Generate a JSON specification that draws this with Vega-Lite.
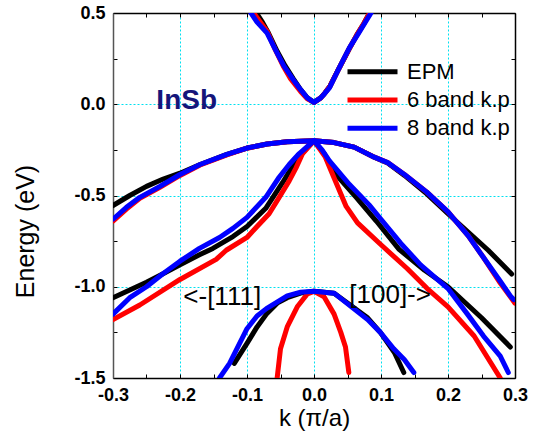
{
  "$schema": "https://vega.github.io/schema/vega-lite/v6.json",
  "width": 402,
  "height": 365,
  "autosize": {"type": "none"},
  "padding": {"left": 113, "top": 13, "right": 23, "bottom": 53},
  "background": "white",
  "config": {"view": {"stroke": null}, "font": "Liberation Sans"},
  "resolve": {"axis": {"x": "independent", "y": "independent"}},
  "layer": [
    {
      "data": {"values": [
        {"model":"EPM","band":"CB","k":-0.086,"E":0.5},{"model":"EPM","band":"CB","k":-0.077,"E":0.45},{"model":"EPM","band":"CB","k":-0.068,"E":0.39},{"model":"EPM","band":"CB","k":-0.055,"E":0.29},{"model":"EPM","band":"CB","k":-0.043,"E":0.21},{"model":"EPM","band":"CB","k":-0.031,"E":0.14},{"model":"EPM","band":"CB","k":-0.02,"E":0.08},{"model":"EPM","band":"CB","k":-0.01,"E":0.035},{"model":"EPM","band":"CB","k":0,"E":0.01},{"model":"EPM","band":"CB","k":0.01,"E":0.035},{"model":"EPM","band":"CB","k":0.016,"E":0.06},{"model":"EPM","band":"CB","k":0.024,"E":0.1},{"model":"EPM","band":"CB","k":0.035,"E":0.18},{"model":"EPM","band":"CB","k":0.052,"E":0.3},{"model":"EPM","band":"CB","k":0.064,"E":0.38},{"model":"EPM","band":"CB","k":0.074,"E":0.44},{"model":"EPM","band":"CB","k":0.083,"E":0.5},
        {"model":"EPM","band":"HH","k":-0.3,"E":-0.555},{"model":"EPM","band":"HH","k":-0.275,"E":-0.5},{"model":"EPM","band":"HH","k":-0.25,"E":-0.45},{"model":"EPM","band":"HH","k":-0.225,"E":-0.41},{"model":"EPM","band":"HH","k":-0.2,"E":-0.378},{"model":"EPM","band":"HH","k":-0.17,"E":-0.33},{"model":"EPM","band":"HH","k":-0.13,"E":-0.275},{"model":"EPM","band":"HH","k":-0.1,"E":-0.24},{"model":"EPM","band":"HH","k":-0.07,"E":-0.218},{"model":"EPM","band":"HH","k":-0.04,"E":-0.206},{"model":"EPM","band":"HH","k":0,"E":-0.2},{"model":"EPM","band":"HH","k":0.03,"E":-0.21},{"model":"EPM","band":"HH","k":0.06,"E":-0.235},{"model":"EPM","band":"HH","k":0.09,"E":-0.29},{"model":"EPM","band":"HH","k":0.11,"E":-0.322},{"model":"EPM","band":"HH","k":0.135,"E":-0.39},{"model":"EPM","band":"HH","k":0.168,"E":-0.49},{"model":"EPM","band":"HH","k":0.2,"E":-0.6},{"model":"EPM","band":"HH","k":0.23,"E":-0.7},{"model":"EPM","band":"HH","k":0.26,"E":-0.8},{"model":"EPM","band":"HH","k":0.295,"E":-0.93},
        {"model":"EPM","band":"LH","k":-0.3,"E":-1.06},{"model":"EPM","band":"LH","k":-0.25,"E":-0.975},{"model":"EPM","band":"LH","k":-0.226,"E":-0.93},{"model":"EPM","band":"LH","k":-0.2,"E":-0.88},{"model":"EPM","band":"LH","k":-0.171,"E":-0.825},{"model":"EPM","band":"LH","k":-0.151,"E":-0.79},{"model":"EPM","band":"LH","k":-0.121,"E":-0.725},{"model":"EPM","band":"LH","k":-0.1,"E":-0.67},{"model":"EPM","band":"LH","k":-0.072,"E":-0.57},{"model":"EPM","band":"LH","k":-0.047,"E":-0.43},{"model":"EPM","band":"LH","k":-0.027,"E":-0.31},{"model":"EPM","band":"LH","k":-0.012,"E":-0.245},{"model":"EPM","band":"LH","k":0,"E":-0.2},{"model":"EPM","band":"LH","k":0.015,"E":-0.27},{"model":"EPM","band":"LH","k":0.033,"E":-0.385},{"model":"EPM","band":"LH","k":0.063,"E":-0.51},{"model":"EPM","band":"LH","k":0.093,"E":-0.64},{"model":"EPM","band":"LH","k":0.127,"E":-0.795},{"model":"EPM","band":"LH","k":0.165,"E":-0.91},{"model":"EPM","band":"LH","k":0.2,"E":-1.0},{"model":"EPM","band":"LH","k":0.25,"E":-1.17},{"model":"EPM","band":"LH","k":0.293,"E":-1.33},
        {"model":"EPM","band":"SO","k":-0.119,"E":-1.42},{"model":"EPM","band":"SO","k":-0.1,"E":-1.31},{"model":"EPM","band":"SO","k":-0.085,"E":-1.22},{"model":"EPM","band":"SO","k":-0.071,"E":-1.15},{"model":"EPM","band":"SO","k":-0.055,"E":-1.09},{"model":"EPM","band":"SO","k":-0.04,"E":-1.06},{"model":"EPM","band":"SO","k":-0.02,"E":-1.035},{"model":"EPM","band":"SO","k":0,"E":-1.025},{"model":"EPM","band":"SO","k":0.03,"E":-1.035},{"model":"EPM","band":"SO","k":0.054,"E":-1.1},{"model":"EPM","band":"SO","k":0.08,"E":-1.17},{"model":"EPM","band":"SO","k":0.099,"E":-1.25},{"model":"EPM","band":"SO","k":0.12,"E":-1.36},{"model":"EPM","band":"SO","k":0.134,"E":-1.47},
        {"model":"6 band k.p","band":"CB","k":-0.09,"E":0.5},{"model":"6 band k.p","band":"CB","k":-0.08,"E":0.45},{"model":"6 band k.p","band":"CB","k":-0.07,"E":0.4},{"model":"6 band k.p","band":"CB","k":-0.058,"E":0.3},{"model":"6 band k.p","band":"CB","k":-0.046,"E":0.21},{"model":"6 band k.p","band":"CB","k":-0.035,"E":0.14},{"model":"6 band k.p","band":"CB","k":-0.02,"E":0.07},{"model":"6 band k.p","band":"CB","k":-0.01,"E":0.03},{"model":"6 band k.p","band":"CB","k":0,"E":0.01},{"model":"6 band k.p","band":"CB","k":0.01,"E":0.035},{"model":"6 band k.p","band":"CB","k":0.016,"E":0.06},{"model":"6 band k.p","band":"CB","k":0.024,"E":0.1},{"model":"6 band k.p","band":"CB","k":0.035,"E":0.18},{"model":"6 band k.p","band":"CB","k":0.052,"E":0.3},{"model":"6 band k.p","band":"CB","k":0.064,"E":0.38},{"model":"6 band k.p","band":"CB","k":0.074,"E":0.44},{"model":"6 band k.p","band":"CB","k":0.083,"E":0.5},
        {"model":"6 band k.p","band":"HH","k":-0.3,"E":-0.64},{"model":"6 band k.p","band":"HH","k":-0.28,"E":-0.575},{"model":"6 band k.p","band":"HH","k":-0.26,"E":-0.515},{"model":"6 band k.p","band":"HH","k":-0.23,"E":-0.455},{"model":"6 band k.p","band":"HH","k":-0.2,"E":-0.39},{"model":"6 band k.p","band":"HH","k":-0.17,"E":-0.333},{"model":"6 band k.p","band":"HH","k":-0.13,"E":-0.277},{"model":"6 band k.p","band":"HH","k":-0.1,"E":-0.241},{"model":"6 band k.p","band":"HH","k":-0.07,"E":-0.218},{"model":"6 band k.p","band":"HH","k":-0.04,"E":-0.206},{"model":"6 band k.p","band":"HH","k":0,"E":-0.2},{"model":"6 band k.p","band":"HH","k":0.03,"E":-0.21},{"model":"6 band k.p","band":"HH","k":0.06,"E":-0.235},{"model":"6 band k.p","band":"HH","k":0.09,"E":-0.29},{"model":"6 band k.p","band":"HH","k":0.11,"E":-0.32},{"model":"6 band k.p","band":"HH","k":0.135,"E":-0.385},{"model":"6 band k.p","band":"HH","k":0.168,"E":-0.48},{"model":"6 band k.p","band":"HH","k":0.2,"E":-0.59},{"model":"6 band k.p","band":"HH","k":0.23,"E":-0.72},{"model":"6 band k.p","band":"HH","k":0.253,"E":-0.84},{"model":"6 band k.p","band":"HH","k":0.278,"E":-0.98},{"model":"6 band k.p","band":"HH","k":0.3,"E":-1.09},
        {"model":"6 band k.p","band":"LH","k":-0.3,"E":-1.18},{"model":"6 band k.p","band":"LH","k":-0.26,"E":-1.1},{"model":"6 band k.p","band":"LH","k":-0.2,"E":-0.96},{"model":"6 band k.p","band":"LH","k":-0.146,"E":-0.85},{"model":"6 band k.p","band":"LH","k":-0.131,"E":-0.8},{"model":"6 band k.p","band":"LH","k":-0.1,"E":-0.73},{"model":"6 band k.p","band":"LH","k":-0.085,"E":-0.67},{"model":"6 band k.p","band":"LH","k":-0.067,"E":-0.6},{"model":"6 band k.p","band":"LH","k":-0.052,"E":-0.51},{"model":"6 band k.p","band":"LH","k":-0.037,"E":-0.42},{"model":"6 band k.p","band":"LH","k":-0.027,"E":-0.35},{"model":"6 band k.p","band":"LH","k":-0.017,"E":-0.27},{"model":"6 band k.p","band":"LH","k":0,"E":-0.2},{"model":"6 band k.p","band":"LH","k":0.017,"E":-0.29},{"model":"6 band k.p","band":"LH","k":0.033,"E":-0.43},{"model":"6 band k.p","band":"LH","k":0.048,"E":-0.56},{"model":"6 band k.p","band":"LH","k":0.065,"E":-0.65},{"model":"6 band k.p","band":"LH","k":0.1,"E":-0.77},{"model":"6 band k.p","band":"LH","k":0.139,"E":-0.9},{"model":"6 band k.p","band":"LH","k":0.169,"E":-1.01},{"model":"6 band k.p","band":"LH","k":0.2,"E":-1.11},{"model":"6 band k.p","band":"LH","k":0.239,"E":-1.27},{"model":"6 band k.p","band":"LH","k":0.278,"E":-1.5},
        {"model":"6 band k.p","band":"SO","k":-0.055,"E":-1.5},{"model":"6 band k.p","band":"SO","k":-0.05,"E":-1.34},{"model":"6 band k.p","band":"SO","k":-0.04,"E":-1.22},{"model":"6 band k.p","band":"SO","k":-0.025,"E":-1.11},{"model":"6 band k.p","band":"SO","k":-0.01,"E":-1.04},{"model":"6 band k.p","band":"SO","k":0,"E":-1.025},{"model":"6 band k.p","band":"SO","k":0.015,"E":-1.055},{"model":"6 band k.p","band":"SO","k":0.03,"E":-1.15},{"model":"6 band k.p","band":"SO","k":0.04,"E":-1.25},{"model":"6 band k.p","band":"SO","k":0.047,"E":-1.33},{"model":"6 band k.p","band":"SO","k":0.052,"E":-1.47},
        {"model":"8 band k.p","band":"CB","k":-0.094,"E":0.5},{"model":"8 band k.p","band":"CB","k":-0.085,"E":0.45},{"model":"8 band k.p","band":"CB","k":-0.07,"E":0.39},{"model":"8 band k.p","band":"CB","k":-0.055,"E":0.28},{"model":"8 band k.p","band":"CB","k":-0.045,"E":0.21},{"model":"8 band k.p","band":"CB","k":-0.032,"E":0.14},{"model":"8 band k.p","band":"CB","k":-0.02,"E":0.08},{"model":"8 band k.p","band":"CB","k":-0.01,"E":0.035},{"model":"8 band k.p","band":"CB","k":0,"E":0.01},{"model":"8 band k.p","band":"CB","k":0.01,"E":0.035},{"model":"8 band k.p","band":"CB","k":0.015,"E":0.055},{"model":"8 band k.p","band":"CB","k":0.023,"E":0.09},{"model":"8 band k.p","band":"CB","k":0.035,"E":0.18},{"model":"8 band k.p","band":"CB","k":0.053,"E":0.31},{"model":"8 band k.p","band":"CB","k":0.065,"E":0.38},{"model":"8 band k.p","band":"CB","k":0.075,"E":0.44},{"model":"8 band k.p","band":"CB","k":0.085,"E":0.5},
        {"model":"8 band k.p","band":"HH","k":-0.3,"E":-0.63},{"model":"8 band k.p","band":"HH","k":-0.28,"E":-0.565},{"model":"8 band k.p","band":"HH","k":-0.26,"E":-0.51},{"model":"8 band k.p","band":"HH","k":-0.23,"E":-0.45},{"model":"8 band k.p","band":"HH","k":-0.2,"E":-0.385},{"model":"8 band k.p","band":"HH","k":-0.17,"E":-0.33},{"model":"8 band k.p","band":"HH","k":-0.13,"E":-0.275},{"model":"8 band k.p","band":"HH","k":-0.1,"E":-0.24},{"model":"8 band k.p","band":"HH","k":-0.07,"E":-0.218},{"model":"8 band k.p","band":"HH","k":-0.04,"E":-0.206},{"model":"8 band k.p","band":"HH","k":0,"E":-0.2},{"model":"8 band k.p","band":"HH","k":0.03,"E":-0.21},{"model":"8 band k.p","band":"HH","k":0.06,"E":-0.235},{"model":"8 band k.p","band":"HH","k":0.09,"E":-0.29},{"model":"8 band k.p","band":"HH","k":0.11,"E":-0.32},{"model":"8 band k.p","band":"HH","k":0.135,"E":-0.385},{"model":"8 band k.p","band":"HH","k":0.168,"E":-0.48},{"model":"8 band k.p","band":"HH","k":0.2,"E":-0.59},{"model":"8 band k.p","band":"HH","k":0.23,"E":-0.72},{"model":"8 band k.p","band":"HH","k":0.253,"E":-0.84},{"model":"8 band k.p","band":"HH","k":0.278,"E":-0.97},{"model":"8 band k.p","band":"HH","k":0.293,"E":-1.05},{"model":"8 band k.p","band":"HH","k":0.298,"E":-1.07},
        {"model":"8 band k.p","band":"LH","k":-0.3,"E":-1.15},{"model":"8 band k.p","band":"LH","k":-0.275,"E":-1.06},{"model":"8 band k.p","band":"LH","k":-0.25,"E":-1.0},{"model":"8 band k.p","band":"LH","k":-0.226,"E":-0.93},{"model":"8 band k.p","band":"LH","k":-0.2,"E":-0.86},{"model":"8 band k.p","band":"LH","k":-0.171,"E":-0.79},{"model":"8 band k.p","band":"LH","k":-0.141,"E":-0.73},{"model":"8 band k.p","band":"LH","k":-0.121,"E":-0.68},{"model":"8 band k.p","band":"LH","k":-0.1,"E":-0.62},{"model":"8 band k.p","band":"LH","k":-0.072,"E":-0.51},{"model":"8 band k.p","band":"LH","k":-0.052,"E":-0.4},{"model":"8 band k.p","band":"LH","k":-0.037,"E":-0.33},{"model":"8 band k.p","band":"LH","k":-0.022,"E":-0.27},{"model":"8 band k.p","band":"LH","k":0,"E":-0.2},{"model":"8 band k.p","band":"LH","k":0.012,"E":-0.25},{"model":"8 band k.p","band":"LH","k":0.023,"E":-0.31},{"model":"8 band k.p","band":"LH","k":0.053,"E":-0.44},{"model":"8 band k.p","band":"LH","k":0.082,"E":-0.55},{"model":"8 band k.p","band":"LH","k":0.1,"E":-0.63},{"model":"8 band k.p","band":"LH","k":0.129,"E":-0.76},{"model":"8 band k.p","band":"LH","k":0.159,"E":-0.88},{"model":"8 band k.p","band":"LH","k":0.2,"E":-1.01},{"model":"8 band k.p","band":"LH","k":0.229,"E":-1.15},{"model":"8 band k.p","band":"LH","k":0.253,"E":-1.27},{"model":"8 band k.p","band":"LH","k":0.278,"E":-1.38},{"model":"8 band k.p","band":"LH","k":0.29,"E":-1.47},
        {"model":"8 band k.p","band":"SO","k":-0.141,"E":-1.5},{"model":"8 band k.p","band":"SO","k":-0.126,"E":-1.42},{"model":"8 band k.p","band":"SO","k":-0.1,"E":-1.23},{"model":"8 band k.p","band":"SO","k":-0.085,"E":-1.16},{"model":"8 band k.p","band":"SO","k":-0.071,"E":-1.12},{"model":"8 band k.p","band":"SO","k":-0.04,"E":-1.05},{"model":"8 band k.p","band":"SO","k":-0.02,"E":-1.03},{"model":"8 band k.p","band":"SO","k":0,"E":-1.025},{"model":"8 band k.p","band":"SO","k":0.03,"E":-1.035},{"model":"8 band k.p","band":"SO","k":0.054,"E":-1.105},{"model":"8 band k.p","band":"SO","k":0.08,"E":-1.18},{"model":"8 band k.p","band":"SO","k":0.099,"E":-1.25},{"model":"8 band k.p","band":"SO","k":0.119,"E":-1.34},{"model":"8 band k.p","band":"SO","k":0.135,"E":-1.4},{"model":"8 band k.p","band":"SO","k":0.149,"E":-1.47}
      ]},
      "mark": {"type": "line", "strokeWidth": 5, "strokeCap": "round", "strokeJoin": "round", "clip": true},
      "encoding": {
        "x": {"field": "k", "type": "quantitative",
          "scale": {"domain": [-0.3, 0.3], "nice": false, "zero": false},
          "axis": {"orient": "bottom",
            "values": [-0.3,-0.25,-0.2,-0.15,-0.1,-0.05,0,0.05,0.1,0.15,0.2,0.25,0.3],
            "labelExpr": "abs(datum.value*10 - round(datum.value*10)) < 0.01 ? replace(format(datum.value, '.1f'), '\u2212', '-') : ''",
            "labelFont": "Liberation Sans", "labelFontWeight": "bold", "labelFontSize": 18, "labelColor": "black",
            "labelPadding": 12, "labelDx": 6, "labelFlush": false, "labelOverlap": false,
            "tickSize": -4, "tickColor": "black", "tickWidth": 1,
            "domainColor": "black", "domainWidth": 1.5,
            "grid": true, "gridColor": "#00e0f0", "gridDash": [2, 2], "gridWidth": 1,
            "gridOpacity": {"condition": {"test": "abs(datum.value) < 0.29 && abs(datum.value*10 - round(datum.value*10)) < 0.01", "value": 1}, "value": 0},
            "title": "k (π/a)", "titleFont": "Liberation Sans", "titleFontSize": 24, "titleFontWeight": "normal", "titleColor": "black",
            "titleY": 47, "titleBaseline": "alphabetic"}},
        "y": {"field": "E", "type": "quantitative",
          "scale": {"domain": [-1.5, 0.5], "nice": false, "zero": false},
          "axis": {"orient": "left",
            "values": [-1.5,-1.25,-1,-0.75,-0.5,-0.25,0,0.25,0.5],
            "labelExpr": "abs(datum.value*2 - round(datum.value*2)) < 0.01 ? replace(format(datum.value, '.1f'), '\u2212', '-') : ''",
            "labelFont": "Liberation Sans", "labelFontWeight": "bold", "labelFontSize": 18, "labelColor": "black",
            "labelPadding": 12, "labelFlush": false, "labelOverlap": false,
            "tickSize": -4, "tickColor": "black", "tickWidth": 1,
            "domainColor": "#555555", "domainWidth": 1.5,
            "grid": true, "gridColor": "#00e0f0", "gridDash": [2, 2], "gridWidth": 1,
            "gridOpacity": {"condition": {"test": "datum.value > -1.4 && datum.value < 0.4 && abs(datum.value*2 - round(datum.value*2)) < 0.01", "value": 1}, "value": 0},
            "title": "Energy (eV)", "titleFont": "Liberation Sans", "titleFontSize": 25, "titleFontWeight": "normal", "titleColor": "black",
            "titleX": -80, "titleY": 218, "titleAngle": 270, "titleAlign": "center", "titleBaseline": "alphabetic"}},
        "color": {"field": "model", "type": "nominal",
          "scale": {"domain": ["EPM", "6 band k.p", "8 band k.p"], "range": ["#000000", "#ff0000", "#0000ff"]},
          "legend": {"orient": "none", "legendX": 248.5, "legendY": 47.7, "title": null,
            "symbolType": "M-5,0H5", "symbolSize": 100, "symbolStrokeWidth": 5,
            "labelFont": "Liberation Sans", "labelFontSize": 22, "labelColor": "black", "labelOffset": 23.5,
            "rowPadding": 6.3, "padding": 0}},
        "detail": {"field": "band", "type": "nominal"}
      }
    },
    {
      "data": {"values": [{"k": -0.19, "E": -0.027, "label": "InSb"}]},
      "mark": {"type": "text", "font": "Liberation Sans", "fontWeight": "bold", "fontSize": 28, "color": "#15157a", "align": "center", "baseline": "alphabetic"},
      "encoding": {
        "x": {"field": "k", "type": "quantitative",
          "scale": {"domain": [-0.3, 0.3], "nice": false, "zero": false},
          "axis": {"orient": "top", "values": [-0.3,-0.25,-0.2,-0.15,-0.1,-0.05,0,0.05,0.1,0.15,0.2,0.25,0.3],
            "labels": false, "grid": false, "title": null, "tickSize": -4, "tickColor": "black", "domainColor": "black", "domainWidth": 1.5}},
        "y": {"field": "E", "type": "quantitative",
          "scale": {"domain": [-1.5, 0.5], "nice": false, "zero": false},
          "axis": {"orient": "right", "values": [-1.5,-1.25,-1,-0.75,-0.5,-0.25,0,0.25,0.5],
            "labels": false, "grid": false, "title": null, "tickSize": -4, "tickColor": "black", "domainColor": "black", "domainWidth": 1.5}},
        "text": {"field": "label"}
      }
    },
    {
      "data": {"values": [{"k": -0.137, "E": -1.0975, "label": "<-[111]"}, {"k": 0.1136, "E": -1.089, "label": "[100]->"}]},
      "mark": {"type": "text", "font": "Liberation Sans", "fontSize": 26, "color": "black", "align": "center", "baseline": "alphabetic"},
      "encoding": {
        "x": {"field": "k", "type": "quantitative", "scale": {"domain": [-0.3, 0.3], "nice": false, "zero": false}, "axis": null},
        "y": {"field": "E", "type": "quantitative", "scale": {"domain": [-1.5, 0.5], "nice": false, "zero": false}, "axis": null},
        "text": {"field": "label"}
      }
    }
  ]
}
